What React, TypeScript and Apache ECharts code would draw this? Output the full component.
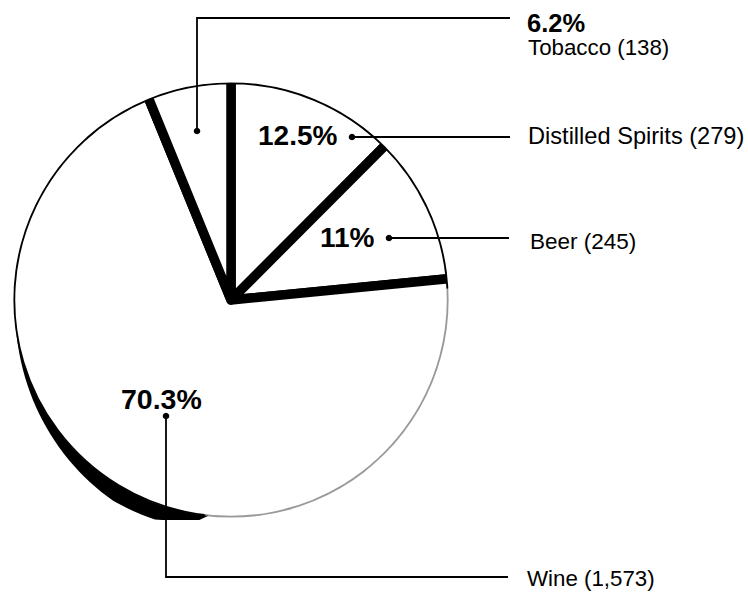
import React, { useEffect, useRef } from "react";
import * as echarts from "echarts";

// ---- data ----
const categories = ["Distilled Spirits", "Beer", "Wine", "Tobacco"];
const values = [279, 245, 1573, 138];
const percentLabels = ["12.5%", "11%", "70.3%", "6.2%"];

// ---- layout ----
const W = 748;
const H = 596;
const CX = 231;
const CY = 300;
const R = 217;
const FONT = "'Liberation Sans', Arial, Helvetica, sans-serif";

// label anchor points (dot position, leader path, percent-label position/size, name position/size)
const dotPos = [
  [352, 137],
  [389, 238],
  [166, 416],
  [197, 131],
];
const leaderPaths = [
  [[352, 137], [510, 137]],
  [[389, 238], [509, 238]],
  [[166, 416], [166, 577], [508, 577]],
  [[197, 131], [197, 18], [510, 18]],
];
const pctPos = [
  [258, 135, 28],
  [320, 237, 28],
  [121, 399, 28.5],
  [527, 22.5, 25.5],
];
const namePos = [
  [528, 136, 23.6],
  [530, 241, 22.5],
  [527, 578, 22.3],
  [528, 47.5, 22.3],
];

export default function App() {
  const ref = useRef<HTMLDivElement>(null);

  useEffect(() => {
    if (!ref.current) return;
    const chart = echarts.init(ref.current, null, { renderer: "svg" });
    const data = categories.map((name, i) => ({ name, value: values[i] }));

    // decorative shadow crescent on lower-left rim
    const deg = Math.PI / 180;
    const OFF = [-9, 13];
    const crescent: number[][] = [];
    for (let a = 96; a <= 172; a += 2) {
      crescent.push([CX + R * Math.cos(a * deg), CY + R * Math.sin(a * deg)]);
    }
    for (let a = 172; a >= 96; a -= 2) {
      const s = Math.min(1, Math.max(0, (172 - a) / 52));
      const x = CX + OFF[0] * s + R * Math.cos(a * deg);
      let y = CY + OFF[1] * s + R * Math.sin(a * deg);
      y = Math.min(y, 520);
      crescent.push([x, y]);
    }

    const graphics: any[] = [];
    graphics.push({
      type: "polygon",
      z: 50,
      silent: true,
      shape: { points: crescent },
      style: { fill: "#000" },
    });
    leaderPaths.forEach((pts) => {
      graphics.push({
        type: "polyline",
        z: 60,
        silent: true,
        shape: { points: pts },
        style: { stroke: "#000", lineWidth: 1.8, fill: null },
      });
    });
    dotPos.forEach((p) => {
      graphics.push({
        type: "circle",
        z: 61,
        silent: true,
        shape: { cx: p[0], cy: p[1], r: 3.3 },
        style: { fill: "#000" },
      });
    });
    percentLabels.forEach((t, i) => {
      graphics.push({
        type: "text",
        z: 62,
        silent: true,
        x: pctPos[i][0],
        y: pctPos[i][1],
        style: {
          text: t,
          fill: "#000",
          fontFamily: FONT,
          fontSize: pctPos[i][2],
          fontWeight: "bold",
          align: "left",
          verticalAlign: "middle",
        },
      });
    });
    categories.forEach((name, i) => {
      graphics.push({
        type: "text",
        z: 62,
        silent: true,
        x: namePos[i][0],
        y: namePos[i][1],
        style: {
          text: `${name} (${values[i].toLocaleString("en-US")})`,
          fill: "#000",
          fontFamily: FONT,
          fontSize: namePos[i][2],
          align: "left",
          verticalAlign: "middle",
        },
      });
    });

    chart.setOption({
      animation: false,
      backgroundColor: "#fff",
      series: [
        {
          type: "pie",
          silent: true,
          center: [CX, CY],
          radius: [0, R + 3.5],
          startAngle: 90,
          clockwise: true,
          label: { show: false },
          labelLine: { show: false },
          emphasis: { disabled: true },
          itemStyle: {
            color: "#fff",
            borderColor: "#000",
            borderWidth: 9.5,
            borderJoin: "round",
          },
          data,
        },
        {
          // white cover that trims the outer border to a thin rim
          type: "pie",
          silent: true,
          center: [CX, CY],
          radius: [R + 0.6, R + 15],
          label: { show: false },
          labelLine: { show: false },
          emphasis: { disabled: true },
          itemStyle: { color: "#fff", borderWidth: 0 },
          data: [{ name: "cover", value: 1 }],
        },
        {
          // fades the rim on the lower-right (faint in the scan)
          type: "pie",
          silent: true,
          center: [CX, CY],
          radius: [R - 2, R + 1.5],
          startAngle: 3,
          clockwise: true,
          label: { show: false },
          labelLine: { show: false },
          emphasis: { disabled: true },
          itemStyle: { borderWidth: 0 },
          data: [
            { name: "fade", value: 100, itemStyle: { color: "rgba(255,255,255,0.6)" } },
            { name: "rest", value: 260, itemStyle: { color: "rgba(0,0,0,0)" } },
          ],
        },
      ],
      graphic: graphics,
    });

    return () => chart.dispose();
  }, []);

  return (
    <div
      ref={ref}
      style={{ position: "absolute", left: 0, top: 0, width: W, height: H }}
    />
  );
}
